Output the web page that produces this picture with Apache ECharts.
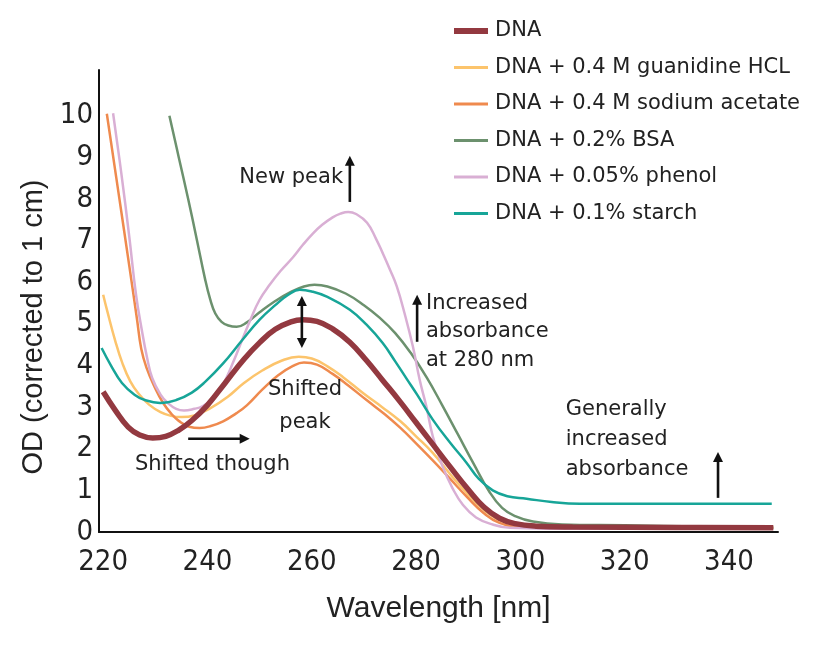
<!DOCTYPE html>
<html><head><meta charset="utf-8">
<script src="https://cdn.jsdelivr.net/npm/echarts@6/dist/echarts.min.js"></script>
<style>html,body{margin:0;padding:0;background:#fff}#c{width:828px;height:652px}</style>
</head><body><div id="c"></div>
<script>
// ---- data ----
const seriesNames = ['DNA','DNA + 0.4 M guanidine HCL','DNA + 0.4 M sodium acetate','DNA + 0.2% BSA','DNA + 0.05% phenol','DNA + 0.1% starch'];
const xTicks = [220,240,260,280,300,320,340];
const yTicks = [0,1,2,3,4,5,6,7,8,9,10];
const dna = [[220,3.37],[222.3,2.93],[224.8,2.52],[227,2.33],[229.5,2.26],[232,2.3],[234.5,2.45],[237,2.68],[240,3.05],[243.5,3.6],[247,4.15],[250,4.55],[253,4.87],[256,5.05],[258.3,5.1],[261,5.06],[264,4.88],[267.3,4.56],[270.5,4.12],[273.5,3.66],[277,3.12],[280,2.63],[283,2.14],[286.5,1.57],[290,1.02],[293,0.6],[296,0.33],[299,0.2],[303,0.14],[310,0.12],[330,0.11],[348.5,0.1]];
const guanidine = [[220,5.7],[220.8,5.3],[222.3,4.6],[223.7,4.05],[225.2,3.62],[226.8,3.32],[228.8,3.06],[231,2.88],[233,2.79],[235,2.76],[237.5,2.8],[240.5,2.97],[243.9,3.25],[247,3.58],[250.5,3.88],[254.3,4.12],[257.5,4.21],[260,4.17],[263,3.98],[266,3.72],[270,3.32],[273.5,3.0],[277,2.66],[280,2.3],[283.2,1.9],[287,1.32],[291.5,0.7],[295,0.35],[299,0.18],[305,0.13],[348.5,0.1]];
const acetate = [[220.7,10.05],[223,8.1],[225,6.4],[226.5,5.1],[227.3,4.4],[228.3,3.95],[230,3.45],[231.5,3.1],[233,2.85],[234.5,2.67],[236.5,2.53],[238.5,2.5],[240.5,2.54],[243,2.66],[245.5,2.85],[247.6,3.05],[250.5,3.42],[253.5,3.76],[256.4,3.99],[258.5,4.07],[261,4.02],[264,3.8],[267,3.52],[270.5,3.17],[274,2.83],[277,2.5],[280,2.13],[283.2,1.72],[286.5,1.28],[289.7,0.85],[293,0.45],[296,0.22],[300,0.13],[348.5,0.1]];
const bsa = [[232.7,10.0],[234.5,9.0],[236.3,8.0],[238,7.0],[239.5,6.1],[240.5,5.6],[241.5,5.25],[242.7,5.05],[244,4.96],[245.6,4.93],[247.5,5.03],[250,5.28],[253,5.55],[256,5.77],[258.5,5.9],[260.5,5.94],[263,5.9],[266.5,5.73],[270,5.45],[273,5.15],[276,4.78],[279,4.3],[282,3.72],[285,3.05],[288,2.35],[291,1.65],[294,0.98],[296.5,0.58],[299,0.38],[302.4,0.25],[308,0.18],[320,0.16],[335,0.13],[348.5,0.1]];
const phenol = [[221.9,10.06],[223.5,8.6],[225,7.1],[226.3,5.7],[227.4,4.86],[228.4,4.2],[229.4,3.7],[231,3.3],[232.4,3.1],[234,2.96],[235.5,2.92],[237.5,2.96],[239,3.02],[241,3.2],[243,3.55],[245,4.1],[246.6,4.6],[248.3,5.12],[250,5.58],[252,5.95],[254,6.27],[256.4,6.6],[258.3,6.9],[260.2,7.17],[262,7.38],[264,7.56],[265.5,7.65],[267,7.69],[268.5,7.64],[270.6,7.43],[272.3,7.05],[273.6,6.7],[275,6.3],[276.3,5.9],[277.8,5.25],[279.4,4.45],[280.7,3.65],[282,3.0],[283.2,2.3],[285,1.6],[287,1.05],[289,0.65],[291.5,0.35],[294.7,0.18],[298,0.1],[305,0.08],[348.5,0.08]];
const starch = [[219.7,4.42],[221.5,4.0],[223.6,3.58],[226,3.3],[228,3.17],[230.9,3.1],[234,3.17],[237,3.35],[239.5,3.6],[243,4.05],[246.6,4.6],[250,5.1],[253,5.45],[255.5,5.7],[257.7,5.82],[260,5.78],[263,5.65],[267.3,5.34],[270.5,4.98],[273.6,4.54],[276,4.1],[278.2,3.68],[280.2,3.3],[283.2,2.7],[286.5,2.15],[289.7,1.66],[292,1.28],[294.7,1.0],[297.5,0.86],[301.2,0.8],[306,0.72],[311.4,0.68],[330,0.68],[348.2,0.68]];

// ---- styles ----
const colors = ['#933940','#fcc46c','#ef8a4e','#6c916e','#d9afd4','#17a598'];
const widths = [5.5,2.5,2.5,2.5,2.5,2.5];
const allData = [dna,guanidine,acetate,bsa,phenol,starch];
const TXT = '#222';
const narrow = "'Liberation Sans Narrow','DejaVu Sans Condensed','Roboto Condensed',sans-serif";
const wide = "'DejaVu Sans',sans-serif";

const chart = echarts.init(document.getElementById('c'), null, {renderer:'canvas'});
const option = {
  animation:false,
  backgroundColor:'#fff',
  grid:{left:99,right:50,top:70,bottom:120},
  legend:{
    orient:'vertical', left:449, top:15, itemWidth:34, itemHeight:22, itemGap:14.5,
    symbolKeepAspect:true,
    textStyle:{fontFamily:wide,fontSize:21,color:TXT,padding:[0,0,0,2],lineHeight:22},
    data:seriesNames.map((n,i)=>({name:n, icon: i===0 ? 'path://M0,0H34V6H0Z' : 'path://M0,0H34V3H0Z'}))
  },
  xAxis:{
    type:'value', min:219.2, max:349.4,
    name:'Wavelength [nm]', nameLocation:'middle', nameGap:62,
    nameTextStyle:{fontFamily:"'Liberation Sans',sans-serif",fontSize:30,color:TXT},
    axisLine:{show:true,lineStyle:{color:'#111',width:2}},
    axisTick:{show:false}, splitLine:{show:false},
    axisLabel:{customValues:xTicks,fontFamily:narrow,fontSize:29,color:TXT,margin:16}
  },
  yAxis:{
    type:'value', min:0, max:11.1,
    name:'OD (corrected to 1 cm)', nameLocation:'middle', nameGap:50,
    nameTextStyle:{fontFamily:"'Liberation Sans',sans-serif",fontSize:29,color:TXT,padding:[0,52,0,0]},
    axisLine:{show:true,lineStyle:{color:'#111',width:2}},
    axisTick:{show:false}, splitLine:{show:false},
    axisLabel:{customValues:yTicks,fontFamily:narrow,fontSize:29,color:TXT,margin:6}
  },
  series: seriesNames.map((n,i)=>({
    name:n, type:'line', data:allData[i], smooth:0.45, showSymbol:false, symbol:'none',
    z: i===0 ? 5 : 2,
    lineStyle:{color:colors[i],width:widths[i]}, itemStyle:{color:colors[i]}
  }))
};
chart.setOption(option);

// ---- annotations (positioned in data coordinates) ----
function P(x,y){return chart.convertToPixel({gridIndex:0},[x,y]);}
const els = [];
function head(tip, dx, dy){
  const L=10, W=5;
  const bx=tip[0]-dx*L, by=tip[1]-dy*L;
  return {type:'polygon', shape:{points:[[tip[0],tip[1]],[bx-dy*W,by+dx*W],[bx+dy*W,by-dx*W]]}, style:{fill:'#111'}, z:100};
}
function arrow(a,b,both){
  const p1=P(a[0],a[1]), p2=P(b[0],b[1]);
  const len=Math.hypot(p2[0]-p1[0],p2[1]-p1[1]);
  const dx=(p2[0]-p1[0])/len, dy=(p2[1]-p1[1])/len;
  const s1 = both ? [p1[0]+dx*7,p1[1]+dy*7] : p1;
  const s2 = [p2[0]-dx*7,p2[1]-dy*7];
  els.push({type:'line', shape:{x1:s1[0],y1:s1[1],x2:s2[0],y2:s2[1]}, style:{stroke:'#111',lineWidth:2.6}, z:100});
  els.push(head(p2,dx,dy));
  if(both) els.push(head(p1,-dx,-dy));
}
function label(txt,x,y,align,lh){
  const p=P(x,y);
  els.push({type:'text', x:p[0], y:p[1], z:100,
    style:{text:txt, fontFamily:wide, fontSize:21, fill:TXT, align:align, verticalAlign:'middle', lineHeight:lh||28}});
}
label('New peak',266,8.51,'right');
arrow([267.3,7.93],[267.3,9.04]);
arrow([258.1,4.42],[258.1,5.67],true);
label('Shifted\npeak',258.7,3.015,'center',33);
arrow([236.3,2.24],[248.1,2.24]);
label('Shifted though',226.1,1.61,'left');
label('Increased\nabsorbance\nat 280 nm',281.9,4.81,'left',28.5);
arrow([280.2,4.57],[280.2,5.7]);
label('Generally\nincreased\nabsorbance',308.7,2.21,'left',30);
arrow([337.9,0.82],[337.9,1.92]);
chart.setOption({graphic:{elements:els}});
</script>
</body></html>
